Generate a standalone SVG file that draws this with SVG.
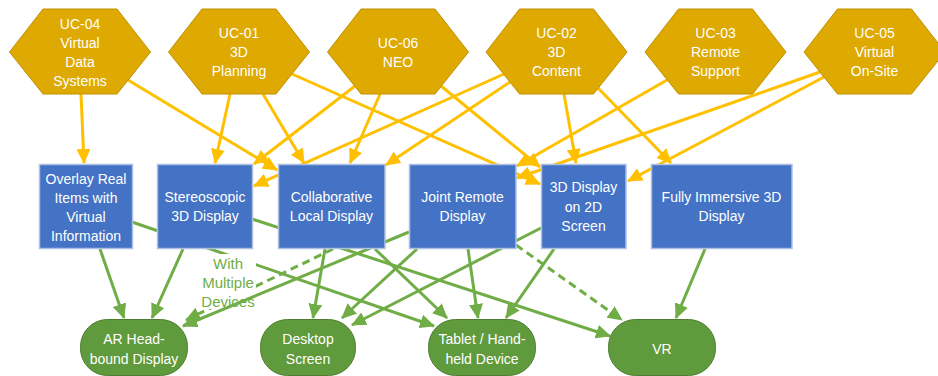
<svg xmlns="http://www.w3.org/2000/svg" width="938" height="376" viewBox="0 0 938 376">
  <defs>
    <style>
      .hex{fill:#DEA900;stroke:#BF9000;stroke-width:1}
      .box{fill:#4472C4;stroke:#AFC1E2;stroke-width:1.5}
      .dev{fill:#5F9A3C;stroke:#4E7D31;stroke-width:1}
      text{font-family:"Liberation Sans",Arial,sans-serif;font-size:14px;fill:#fff;text-anchor:middle}
      .y{fill:none;stroke:#FFC000;stroke-width:3;marker-end:url(#ay)}
      .g{fill:none;stroke:#70AD47;stroke-width:3;marker-end:url(#ag)}
      .dash{stroke-dasharray:8 5}
      .lbl{fill:#70AD47;font-size:15px}
    </style>
    <marker id="ay" viewBox="0 0 15 14" refX="14" refY="7" markerWidth="15" markerHeight="14" markerUnits="userSpaceOnUse" orient="auto">
      <path d="M0,0L15,7L0,14z" fill="#FFC000"/>
    </marker>
    <marker id="ag" viewBox="0 0 15 14" refX="14" refY="7" markerWidth="15" markerHeight="14" markerUnits="userSpaceOnUse" orient="auto">
      <path d="M0,0L15,7L0,14z" fill="#70AD47"/>
    </marker>
  </defs>

  <rect width="938" height="376" fill="#fff"/>

  <!-- connectors: use cases to display types (yellow), display types to devices (green) -->
  <g id="connectors">
    <path class="y" d="M81,94L84,163"/>
    <path class="y" d="M128,80L277,170"/>
    <path class="y" d="M230,94L215,163"/>
    <path class="y" d="M263,94L304,163"/>
    <path class="y" d="M292,74L540,184"/>
    <path class="y" d="M380,94L350,163"/>
    <path class="y" d="M355,86L254,164"/>
    <path class="y" d="M441,86L540,167"/>
    <path class="y" d="M504,74L254,186"/>
    <path class="y" d="M510,82L386,165"/>
    <path class="y" d="M564,94L576,163"/>
    <path class="y" d="M598,88L671,163"/>
    <path class="y" d="M667,80L517,166"/>
    <path class="y" d="M820,72L517,178"/>
    <path class="y" d="M824,77L628,181"/>

    <path class="g" d="M100,249L124,318"/>
    <path class="g" d="M132,222L434,326"/>
    <path class="g" d="M183,249L152,318"/>
    <path class="g" d="M252,219L610,336"/>
    <path class="g" d="M375,249L447,318"/>
    <path class="g" d="M468,249L478,318"/>
    <path class="g" d="M554,249L506,318"/>
    <path class="g dash" d="M516,245L622,320"/>
    <path class="g" d="M705,249L676,318"/>
    <path class="g" d="M325,249L313,318"/>
    <path class="g" d="M417,249L342,318"/>
    <path class="g" d="M541,228L352,325"/>
    <path class="g dash" d="M333,249L186,320"/>
    <rect x="201" y="254" width="55" height="55" fill="#fff"/>
    <text class="lbl" x="228" y="268.5">With</text>
    <text class="lbl" x="228" y="288">Multiple</text>
    <text class="lbl" x="228" y="306.5">Devices</text>
    <path class="g" d="M409,232L183,326"/>
  </g>

  <!-- use cases -->
  <g id="uc04">
    <polygon class="hex" points="9.5,52 43,9 117,9 150.5,52 117,94 43,94"/>
    <text x="80" y="28.5">UC-04<tspan x="80" dy="19">Virtual</tspan><tspan x="80" dy="19">Data</tspan><tspan x="80" dy="19">Systems</tspan></text>
  </g>
  <g id="uc01">
    <polygon class="hex" points="168.5,52 202,9 276,9 309.5,52 276,94 202,94"/>
    <text x="239" y="37.5">UC-01<tspan x="239" dy="19">3D</tspan><tspan x="239" dy="19">Planning</tspan></text>
  </g>
  <g id="uc06">
    <polygon class="hex" points="327.5,52 361,9 435,9 468.5,52 435,94 361,94"/>
    <text x="398" y="47.5">UC-06<tspan x="398" dy="19">NEO</tspan></text>
  </g>
  <g id="uc02">
    <polygon class="hex" points="486,52 519.5,9 593.5,9 627,52 593.5,94 519.5,94"/>
    <text x="556.5" y="37.5">UC-02<tspan x="556.5" dy="19">3D</tspan><tspan x="556.5" dy="19">Content</tspan></text>
  </g>
  <g id="uc03">
    <polygon class="hex" points="645,52 678.5,9 752.5,9 786,52 752.5,94 678.5,94"/>
    <text x="715.5" y="37.5">UC-03<tspan x="715.5" dy="19">Remote</tspan><tspan x="715.5" dy="19">Support</tspan></text>
  </g>
  <g id="uc05">
    <polygon class="hex" points="804,52 837.5,9 911.5,9 945,52 911.5,94 837.5,94"/>
    <text x="874.5" y="37.5">UC-05<tspan x="874.5" dy="19">Virtual</tspan><tspan x="874.5" dy="19">On-Site</tspan></text>
  </g>

  <!-- display types -->
  <g id="overlay">
    <rect class="box" x="39.5" y="164.5" width="93" height="84"/>
    <text x="86" y="183.5">Overlay Real<tspan x="86" dy="19">Items with</tspan><tspan x="86" dy="19">Virtual</tspan><tspan x="86" dy="19">Information</tspan></text>
  </g>
  <g id="stereoscopic">
    <rect class="box" x="157.5" y="164.5" width="95" height="84"/>
    <text x="205" y="202">Stereoscopic<tspan x="205" dy="19">3D Display</tspan></text>
  </g>
  <g id="collaborative">
    <rect class="box" x="278.5" y="164.5" width="106.5" height="84"/>
    <text x="331.5" y="202">Collaborative<tspan x="331.5" dy="19">Local Display</tspan></text>
  </g>
  <g id="joint-remote">
    <rect class="box" x="409.5" y="164.5" width="106.5" height="84"/>
    <text x="462.5" y="202">Joint Remote<tspan x="462.5" dy="19">Display</tspan></text>
  </g>
  <g id="display-2d">
    <rect class="box" x="541.5" y="164.5" width="84.5" height="84"/>
    <text x="583.5" y="192">3D Display<tspan x="583.5" dy="19.5">on 2D</tspan><tspan x="583.5" dy="19.5">Screen</tspan></text>
  </g>
  <g id="immersive">
    <rect class="box" x="651.5" y="164.5" width="140.5" height="84"/>
    <text x="721.5" y="202">Fully Immersive 3D<tspan x="721.5" dy="19">Display</tspan></text>
  </g>

  <!-- devices -->
  <g id="ar">
    <rect class="dev" x="80.5" y="319.5" width="107" height="56" rx="27" ry="27"/>
    <text x="134" y="343.5">AR Head-<tspan x="134" dy="20">bound Display</tspan></text>
  </g>
  <g id="desktop">
    <rect class="dev" x="260.5" y="319.5" width="95" height="56" rx="27" ry="27"/>
    <text x="308" y="343.5">Desktop<tspan x="308" dy="20">Screen</tspan></text>
  </g>
  <g id="tablet">
    <rect class="dev" x="428.5" y="319.5" width="107" height="56" rx="27" ry="27"/>
    <text x="482" y="343.5">Tablet / Hand-<tspan x="482" dy="20">held Device</tspan></text>
  </g>
  <g id="vr">
    <rect class="dev" x="608.5" y="319.5" width="107" height="56" rx="27" ry="27"/>
    <text x="662" y="353.5">VR</text>
  </g>
</svg>
